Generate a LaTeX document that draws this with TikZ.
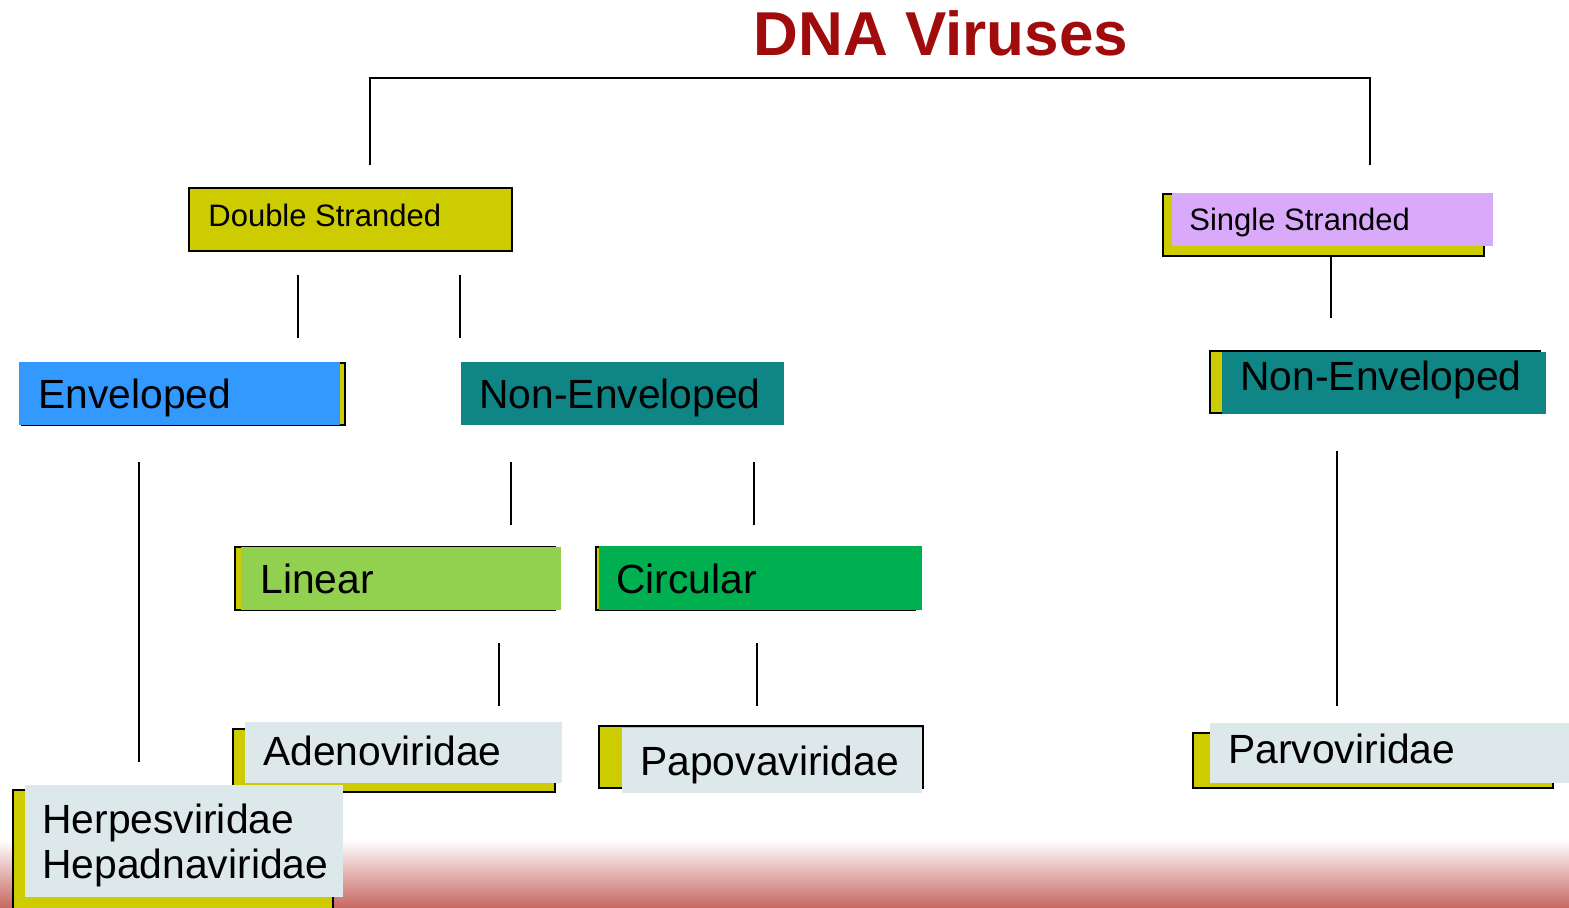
\documentclass[tikz,border=0pt]{standalone}
\usepackage{fontspec}
\setmainfont{Liberation Sans}
\usetikzlibrary{fit}
\definecolor{ylw}{HTML}{CCCC00}
\definecolor{lav}{HTML}{D9AAFA}
\definecolor{envblue}{HTML}{3399FF}
\definecolor{teal2}{HTML}{108585}
\definecolor{lgreen}{HTML}{92D050}
\definecolor{dgreen}{HTML}{00B050}
\definecolor{pale}{HTML}{DDE8EA}
\definecolor{titlered}{HTML}{A00C0C}
\definecolor{gradred}{RGB}{200,105,100}
\begin{document}
\begin{tikzpicture}[x=0.5pt,y=-0.5pt,
  shadowbox/.style={inner sep=0pt, draw=black, line width=1pt, fill=ylw},
  topbox/.style={inner sep=0pt},
  lbl/.style={anchor=base west, inner sep=0pt, font=\fontsize{20.4pt}{22.5pt}\selectfont},
  smalllbl/.style={anchor=base west, inner sep=0pt, font=\fontsize{15.5pt}{18pt}\selectfont},
  conn/.style={draw=black, line width=1pt}]
\useasboundingbox (0,0) rectangle (1569,907);
% bottom gradient
\fill[top color=white, bottom color=gradred] (0,840) rectangle (1569,907);
% title
\node[anchor=base, inner sep=0pt, text=titlered, font=\fontsize{31pt}{36pt}\selectfont\bfseries] (title) at (941,55) {DNA Viruses};
% top bracket
\coordinate (bl) at (370,165);
\coordinate (tl) at (370,78);
\coordinate (tr) at (1370,78);
\coordinate (br) at (1370,165);
\draw[conn] (bl) -- (tl) -- (tr) -- (br);
% Double stranded
\node[shadowbox, fit={(189,188) (512,251)}] (ds) {};
\node[smalllbl] (dsT) at (208,226) {Double Stranded};
% Single stranded
\node[shadowbox, fit={(1163,194) (1484,256)}] (ssS) {};
\node[topbox, fit={(1172,193) (1493,246)}, fill=lav] (ss) {};
\node[smalllbl] (ssT) at (1189,230) {Single Stranded};
% connectors level 1
\coordinate (a1) at (298,275); \coordinate (a2) at (298,338);
\coordinate (b1) at (460,275); \coordinate (b2) at (460,338);
\coordinate (c1) at (1331,256); \coordinate (c2) at (1331,318);
\draw[conn] (a1) -- (a2);
\draw[conn] (b1) -- (b2);
\draw[conn] (c1) -- (c2);
% Enveloped
\node[shadowbox, fit={(22,363) (345,425)}] (envS) {};
\node[topbox, fit={(19,362) (340,425)}, fill=envblue] (env) {};
\node[lbl] (envT) at (38,408) {Enveloped};
% Non-enveloped (middle)
\node[topbox, fit={(461,362) (784,425)}, fill=teal2] (nem) {};
\node[lbl] (nemT) at (479,408) {Non-Enveloped};
% Non-enveloped (right)
\node[shadowbox, fit={(1210,351) (1540,413)}] (nerS) {};
\node[topbox, fit={(1222,352) (1546,414)}, fill=teal2] (ner) {};
\node[lbl] (nerT) at (1240,390) {Non-Enveloped};
% connectors level 2
\coordinate (d1) at (139,462); \coordinate (d2) at (139,762);
\coordinate (e1) at (511,462); \coordinate (e2) at (511,525);
\coordinate (f1) at (754,462); \coordinate (f2) at (754,525);
\coordinate (g1) at (1337,451); \coordinate (g2) at (1337,706);
\draw[conn] (d1) -- (d2);
\draw[conn] (e1) -- (e2);
\draw[conn] (f1) -- (f2);
\draw[conn] (g1) -- (g2);
% Linear
\node[shadowbox, fit={(235,547) (555,610)}] (linS) {};
\node[topbox, fit={(241,547) (561,610)}, fill=lgreen] (lin) {};
\node[lbl] (linT) at (260,593) {Linear};
% Circular
\node[shadowbox, fit={(596,547) (915,610)}] (cirS) {};
\node[topbox, fit={(599,546) (922,610)}, fill=dgreen] (cir) {};
\node[lbl] (cirT) at (616,593) {Circular};
% connectors level 3
\coordinate (h1) at (499,643); \coordinate (h2) at (499,706);
\coordinate (i1) at (757,643); \coordinate (i2) at (757,706);
\draw[conn] (h1) -- (h2);
\draw[conn] (i1) -- (i2);
% Adenoviridae
\node[shadowbox, fit={(233,729) (555,792)}] (adeS) {};
\node[topbox, fit={(245,722) (562,783)}, fill=pale] (ade) {};
\node[lbl] (adeT) at (263,765) {Adenoviridae};
% Papovaviridae
\node[shadowbox, fit={(599,726) (923,788)}] (papS) {};
\node[topbox, fit={(622,728) (922,793)}, fill=pale] (pap) {};
\node[lbl] (papT) at (640,775) {Papovaviridae};
% Parvoviridae
\node[shadowbox, fit={(1193,733) (1553,788)}] (parS) {};
\node[topbox, fit={(1210,723) (1569,783)}, fill=pale] (par) {};
\node[lbl] (parT) at (1228,763) {Parvoviridae};
% Herpesviridae / Hepadnaviridae
\node[shadowbox, fit={(13,790) (333,915)}] (herS) {};
\node[topbox, fit={(25,785) (343,897)}, fill=pale] (her) {};
\node[lbl] (herT1) at (42,833) {Herpesviridae};
\node[lbl] (herT2) at (42,878) {Hepadnaviridae};
\end{tikzpicture}
\end{document}
